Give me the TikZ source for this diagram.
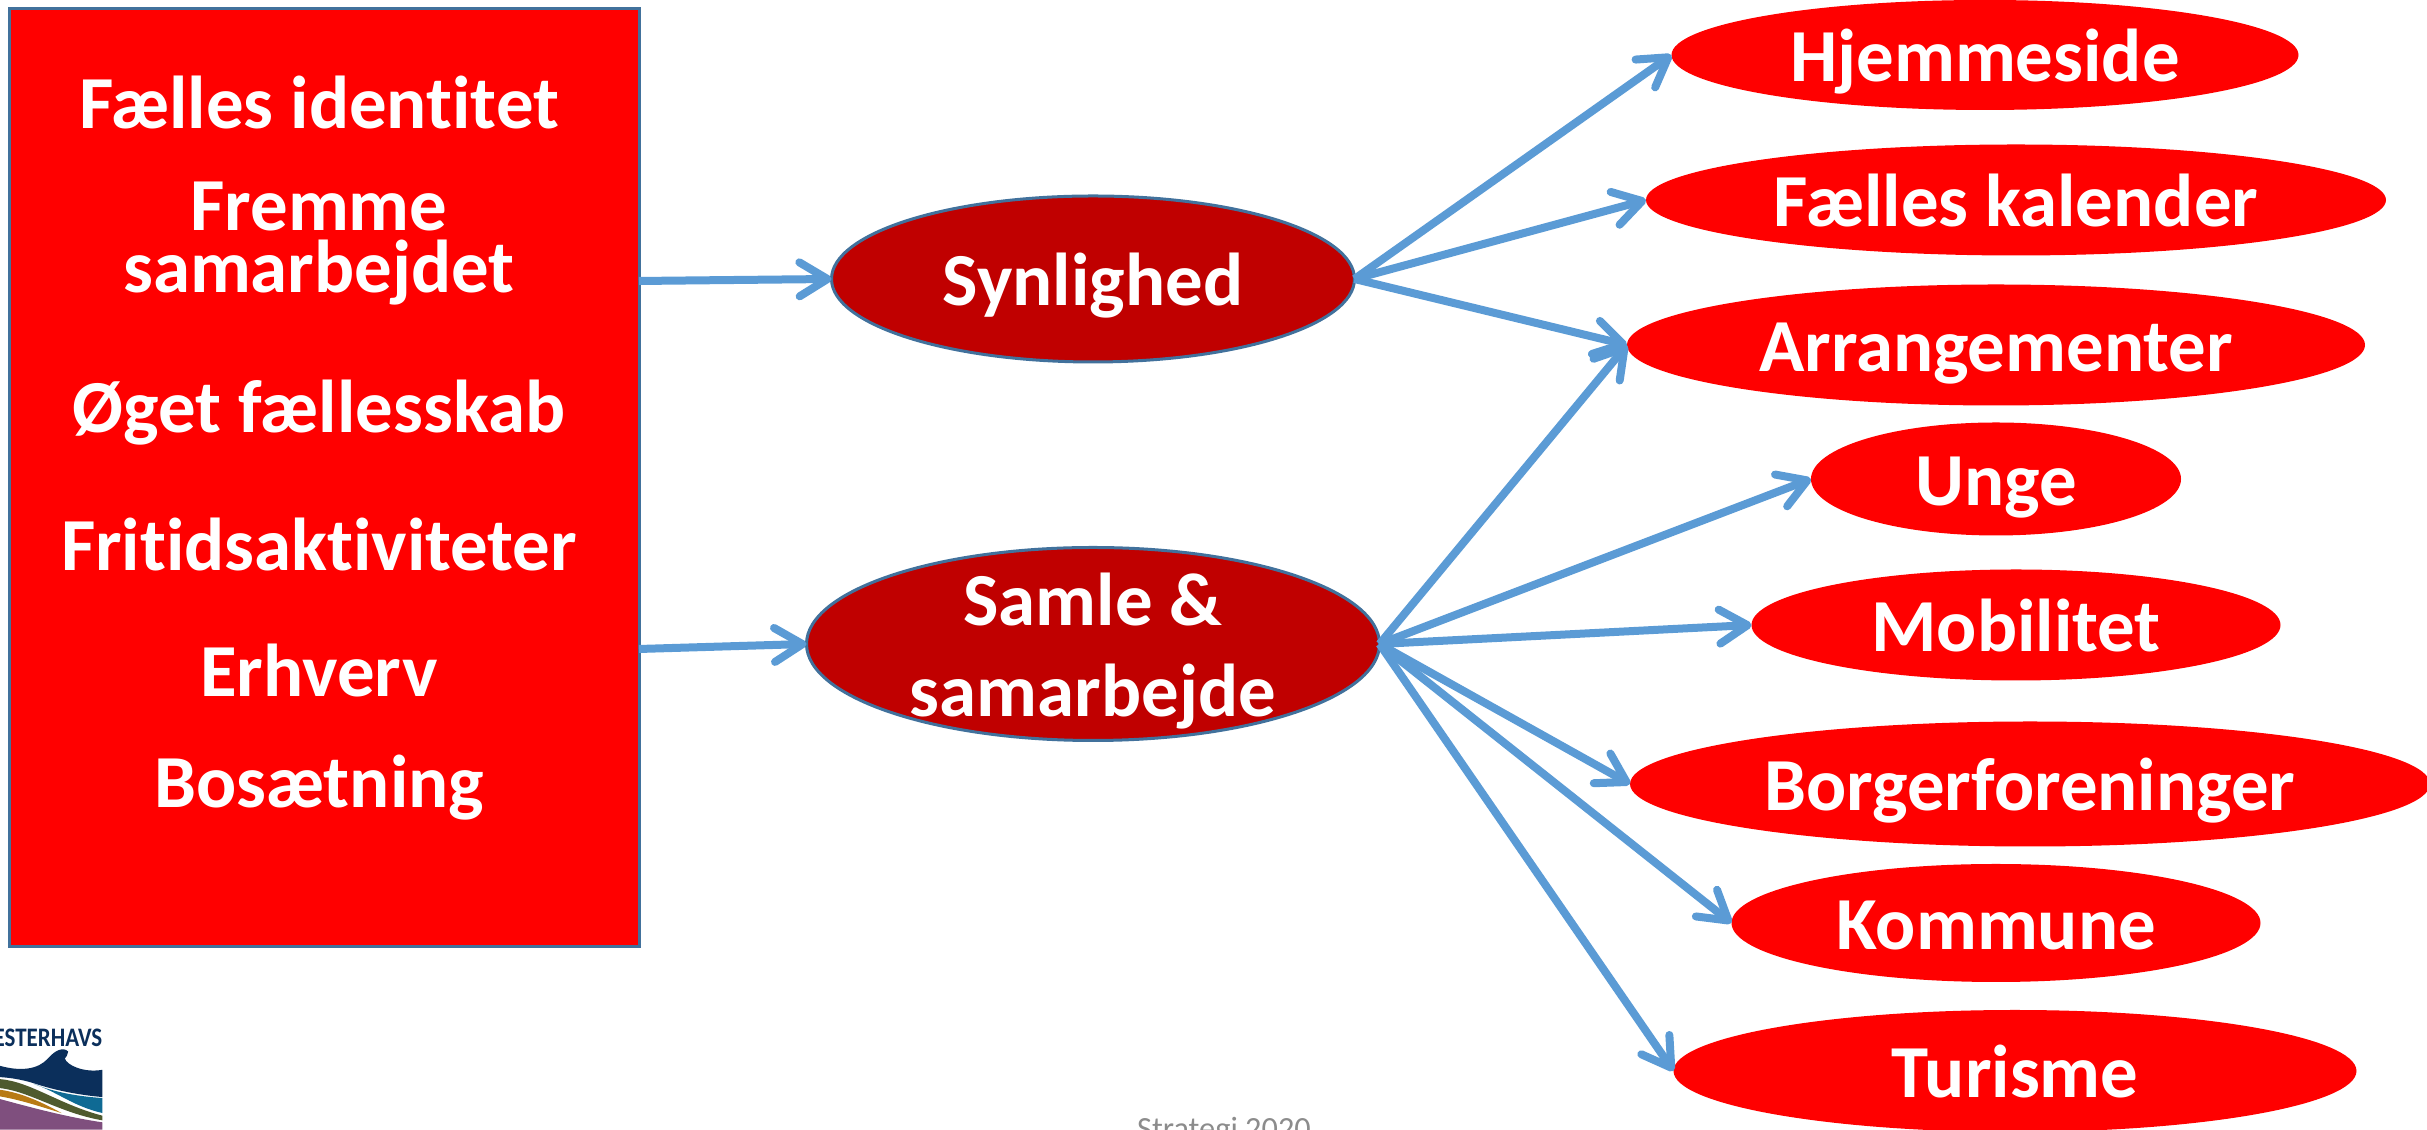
\documentclass[tikz,border=0pt]{standalone}
\usepackage{fontspec}
\setmainfont[Ligatures=CommonOff]{Carlito}
\usetikzlibrary{shapes.geometric,arrows.meta}
\definecolor{strongred}{HTML}{FF0000}
\definecolor{darkred}{HTML}{C00000}
\definecolor{linkblue}{HTML}{5B9BD5}
\definecolor{edgeblue}{HTML}{41719C}
\definecolor{logonavy}{RGB}{11,47,91}
\definecolor{logoteal}{RGB}{15,106,148}
\definecolor{logoolive}{RGB}{79,90,46}
\definecolor{logoorange}{RGB}{184,122,20}
\definecolor{logopurple}{RGB}{127,79,126}
\tikzset{
	goal/.style={text=white,font=\fontsize{21.3}{17.6}\selectfont\bfseries,align=center,text height=14pt,text depth=0pt},
	theme/.style={ellipse,fill=darkred,draw=edgeblue,line width=0.3mm,inner sep=0pt,outer sep=0pt,text=white,font=\fontsize{21.3}{26}\selectfont\bfseries,align=center},
	action/.style={ellipse,fill=strongred,inner sep=0pt,outer sep=0pt,text=white,font=\fontsize{21.3}{23}\selectfont\bfseries,text height=15.3pt,text depth=0pt},
	link/.style={draw=linkblue,line width=0.8mm,-{Straight Barb[length=2.8mm,width=3.4mm,round]}}
}
\begin{document}
\begin{tikzpicture}
	\useasboundingbox (0,0) rectangle (24.27,-11.30);

	% left box
	\node[rectangle,fill=strongred,draw=edgeblue,line width=0.3mm,minimum width=6.30cm,minimum height=9.38cm,inner sep=0pt,outer sep=0pt] (board) at (3.24,-4.78) {};
	\node[goal] (identitet) at (3.19,-1.04) {Fælles identitet};
	\node[goal] (fremme) at (3.19,-2.68) {Fremme\\samarbejdet};
	\node[goal] (oeget) at (3.19,-4.08) {Øget fællesskab};
	\node[goal] (fritid) at (3.19,-5.46) {Fritidsaktiviteter};
	\node[goal] (erhverv) at (3.19,-6.72) {Erhverv};
	\node[goal] (bosaetning) at (3.19,-7.83) {Bosætning};
	\coordinate (boardtop) at (6.39,-2.81);
	\coordinate (boardlow) at (6.39,-6.49);

	% middle
	\node[theme,minimum width=5.23cm,minimum height=1.66cm,text height=15.3pt,text depth=0pt] (synlighed) at (10.93,-2.79) {Synlighed};
	\node[theme,minimum width=5.73cm,minimum height=1.93cm,inner ysep=-6mm,text height=41.2pt,text depth=0pt] (samle) at (10.93,-6.44) {Samle \&\\samarbejde};

	% right
	\node[action,minimum width=6.27cm,minimum height=1.10cm] (hjemmeside) at (19.85,-0.55) {Hjemmeside};
	\node[action,minimum width=7.40cm,minimum height=1.11cm] (kalender) at (20.16,-2.00) {Fælles kalender};
	\node[action,minimum width=7.38cm,minimum height=1.21cm] (arrangementer) at (19.96,-3.45) {Arrangementer};
	\node[action,minimum width=3.70cm,minimum height=1.13cm] (unge) at (19.96,-4.79) {Unge};
	\node[action,minimum width=5.29cm,minimum height=1.11cm] (mobilitet) at (20.16,-6.25) {Mobilitet};
	\node[action,minimum width=8.00cm,minimum height=1.25cm] (borger) at (20.30,-7.84) {Borgerforeninger};
	\node[action,minimum width=5.29cm,minimum height=1.18cm] (kommune) at (19.96,-9.23) {Kommune};
	\node[action,minimum width=6.83cm,minimum height=1.22cm] (turisme) at (20.15,-10.71) {Turisme};

	\draw[link] (boardtop) -- (synlighed.west);
	\draw[link] (boardlow) -- (samle.west);
	\draw[link] (synlighed.east) -- (hjemmeside.west);
	\draw[link] (synlighed.east) -- (kalender.west);
	\draw[link] (synlighed.east) -- (arrangementer.west);
	\draw[link] (samle.east) -- (arrangementer.west);
	\draw[link] (samle.east) -- (unge.west);
	\draw[link] (samle.east) -- (mobilitet.west);
	\draw[link] (samle.east) -- (borger.west);
	\draw[link] (samle.east) -- (kommune.west);
	\draw[link] (samle.east) -- (turisme.west);

	% logo
	\begin{scope}[shift={(0,-9.8)},x=0.00333cm,y=-0.00333cm]
		\fill[logopurple] (0,358) .. controls (100,385) and (200,412) .. (308,428) -- (308,450) -- (0,450) -- cycle;
		\fill[logoorange] (0,330) .. controls (70,340) and (130,370) .. (185,400) .. controls (120,380) and (60,360) .. (0,350) -- cycle;
		\fill[logoolive] (0,298) .. controls (90,305) and (180,375) .. (308,408) -- (308,422) .. controls (180,400) and (90,335) .. (0,325) -- cycle;
		\fill[logoteal] (100,312) .. controls (170,340) and (240,350) .. (308,355) -- (308,400) .. controls (220,380) and (170,335) .. (100,312) -- cycle;
		\fill[logonavy] (0,258) .. controls (60,275) and (115,270) .. (145,235) .. controls (165,212) and (190,200) .. (205,215) .. controls (205,225) and (198,232) .. (195,236) .. controls (200,255) and (250,280) .. (308,270) -- (308,352) .. controls (230,345) and (160,330) .. (100,310) .. controls (60,298) and (30,294) .. (0,292) -- cycle;
	\end{scope}
	\node[anchor=east,inner sep=0pt,text=logonavy,font=\fontsize{7.6}{8}\selectfont\bfseries] (logotext) at (1.03,-10.38) {\scalebox{0.86}[1]{ESTERHAVS}};

	% footer
	\node[anchor=base,inner sep=0pt,text=black!45,font=\fontsize{9.2}{10}\selectfont] (footer) at (12.24,-11.40) {Strategi 2020};
\end{tikzpicture}
\end{document}
